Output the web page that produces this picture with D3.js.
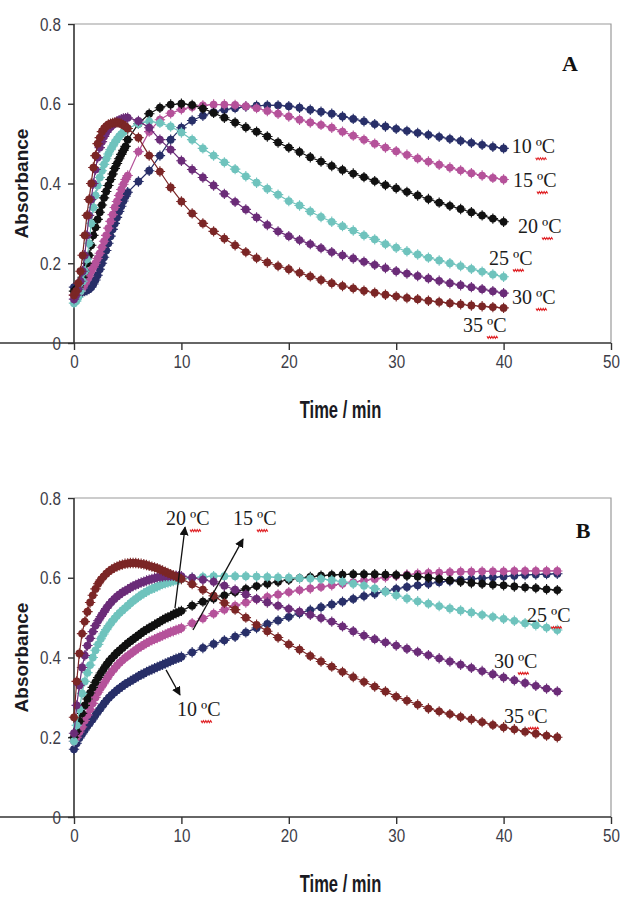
<!DOCTYPE html>
<html><head><meta charset="utf-8">
<script src="https://cdn.jsdelivr.net/npm/d3@7"></script>
<style>body{margin:0;background:#fff}</style>
</head><body>
<svg id="c" width="622" height="900"></svg>
<script>
// ---------- DATA ----------
const xTicks = [0, 10, 20, 30, 40, 50];
const yTicks = [0, 0.2, 0.4, 0.6, 0.8];
const seriesNames = ["10", "15", "20", "25", "30", "35"];

// Panel A time points (min)
const tA = [0,0.2,0.4,0.6,0.8,1,1.2,1.4,1.6,1.8,2,2.2,2.4,2.6,2.8,3,3.2,3.4,3.6,3.8,4,4.2,4.4,4.6,4.8,5,
  6,7,8,9,10,11,12,13,14,15,16,17,18,19,20,21,22,23,24,25,26,27,28,29,30,31,32,33,34,35,36,37,38,39,40];
const a10 = [0.14,0.135,0.13,0.128,0.128,0.13,0.132,0.135,0.14,0.148,0.158,0.17,0.185,0.2,0.215,0.232,0.25,0.268,0.285,0.3,0.315,0.33,0.343,0.356,0.368,0.378,
  0.405,0.432,0.47,0.51,0.54,0.558,0.57,0.579,0.585,0.589,0.593,0.595,0.596,0.596,0.594,0.59,0.585,0.58,0.575,0.568,0.562,0.556,0.549,0.543,0.537,0.532,0.527,0.522,0.517,0.512,0.507,0.502,0.497,0.492,0.488];
const a15 = [0.12,0.12,0.125,0.13,0.138,0.148,0.158,0.168,0.18,0.19,0.2,0.212,0.225,0.24,0.255,0.27,0.288,0.305,0.322,0.34,0.355,0.37,0.385,0.398,0.41,0.42,
  0.48,0.53,0.56,0.576,0.586,0.592,0.596,0.598,0.598,0.597,0.594,0.589,0.582,0.575,0.568,0.56,0.553,0.547,0.54,0.53,0.52,0.51,0.5,0.49,0.481,0.472,0.463,0.455,0.447,0.44,0.433,0.426,0.42,0.414,0.41];
const a20 = [0.13,0.135,0.14,0.15,0.165,0.18,0.2,0.22,0.245,0.27,0.29,0.31,0.328,0.346,0.364,0.38,0.395,0.41,0.424,0.438,0.45,0.462,0.473,0.483,0.493,0.51,
  0.55,0.575,0.59,0.598,0.6,0.597,0.588,0.577,0.565,0.553,0.541,0.53,0.518,0.503,0.49,0.479,0.466,0.455,0.444,0.434,0.425,0.416,0.406,0.396,0.388,0.379,0.37,0.361,0.352,0.344,0.336,0.328,0.32,0.312,0.304];
const a25 = [0.1,0.105,0.115,0.13,0.155,0.18,0.21,0.25,0.3,0.34,0.37,0.395,0.415,0.432,0.448,0.462,0.474,0.485,0.494,0.503,0.511,0.518,0.524,0.529,0.534,0.538,
  0.55,0.556,0.552,0.543,0.528,0.51,0.488,0.47,0.453,0.436,0.418,0.402,0.387,0.372,0.356,0.345,0.33,0.316,0.304,0.293,0.282,0.27,0.26,0.248,0.239,0.23,0.222,0.214,0.207,0.2,0.193,0.186,0.179,0.172,0.166];
const a30 = [0.11,0.12,0.135,0.155,0.18,0.22,0.27,0.32,0.36,0.4,0.435,0.465,0.49,0.505,0.518,0.528,0.536,0.542,0.547,0.552,0.556,0.559,0.561,0.563,0.564,0.565,
  0.557,0.54,0.51,0.485,0.457,0.435,0.415,0.395,0.374,0.354,0.335,0.315,0.296,0.28,0.268,0.258,0.248,0.238,0.228,0.22,0.212,0.204,0.196,0.188,0.18,0.174,0.168,0.162,0.156,0.15,0.145,0.14,0.135,0.13,0.125];
const a35 = [0.12,0.13,0.15,0.18,0.22,0.27,0.32,0.36,0.4,0.44,0.47,0.5,0.515,0.53,0.538,0.544,0.548,0.55,0.552,0.553,0.553,0.552,0.55,0.547,0.543,0.538,
  0.515,0.47,0.43,0.39,0.355,0.325,0.3,0.28,0.262,0.245,0.228,0.213,0.202,0.193,0.185,0.176,0.167,0.158,0.15,0.143,0.137,0.131,0.126,0.121,0.117,0.113,0.11,0.106,0.103,0.1,0.097,0.094,0.092,0.09,0.088];

// Panel B time points (min)
const tB = [0,0.25,0.5,0.75,1,1.25,1.5,1.75,2,2.25,2.5,2.75,3,3.25,3.5,3.75,4,4.25,4.5,4.75,5,5.25,5.5,5.75,6,6.25,6.5,6.75,7,7.25,7.5,7.75,8,8.25,8.5,8.75,9,9.25,9.5,9.75,10,
  11,12,13,14,15,16,17,18,19,20,21,22,23,24,25,26,27,28,29,30,31,32,33,34,35,36,37,38,39,40,41,42,43,44,45];
const b10 = [0.17,0.185,0.198,0.208,0.218,0.228,0.237,0.246,0.256,0.265,0.274,0.283,0.292,0.299,0.306,0.312,0.318,0.323,0.328,0.333,0.337,0.341,0.345,0.349,0.353,0.357,0.36,0.364,0.367,0.37,0.373,0.376,0.379,0.382,0.385,0.388,0.391,0.394,0.397,0.399,0.402,
  0.413,0.424,0.434,0.443,0.452,0.463,0.474,0.484,0.493,0.502,0.511,0.519,0.526,0.533,0.54,0.547,0.554,0.56,0.566,0.572,0.577,0.581,0.585,0.589,0.592,0.595,0.597,0.599,0.601,0.603,0.605,0.607,0.608,0.609,0.61];
const b15 = [0.19,0.2,0.213,0.226,0.242,0.256,0.27,0.285,0.3,0.313,0.324,0.334,0.345,0.355,0.364,0.372,0.38,0.387,0.393,0.399,0.404,0.409,0.414,0.419,0.424,0.428,0.432,0.436,0.44,0.443,0.446,0.449,0.452,0.455,0.458,0.461,0.464,0.466,0.469,0.471,0.474,
  0.486,0.498,0.51,0.52,0.53,0.538,0.546,0.552,0.558,0.564,0.569,0.573,0.577,0.581,0.585,0.589,0.593,0.597,0.601,0.605,0.608,0.61,0.612,0.613,0.614,0.615,0.615,0.616,0.616,0.616,0.617,0.617,0.617,0.617,0.617];
const b20 = [0.2,0.215,0.24,0.26,0.28,0.296,0.311,0.325,0.338,0.35,0.361,0.371,0.381,0.39,0.398,0.405,0.412,0.418,0.424,0.43,0.436,0.441,0.446,0.451,0.456,0.461,0.466,0.47,0.474,0.478,0.482,0.486,0.49,0.494,0.498,0.501,0.504,0.508,0.511,0.514,0.517,
  0.53,0.54,0.548,0.556,0.564,0.572,0.579,0.585,0.59,0.595,0.599,0.602,0.605,0.607,0.608,0.609,0.609,0.609,0.608,0.607,0.605,0.603,0.6,0.597,0.594,0.59,0.587,0.585,0.583,0.581,0.578,0.576,0.574,0.571,0.569];
const b25 = [0.19,0.23,0.27,0.31,0.34,0.362,0.381,0.4,0.418,0.433,0.447,0.459,0.47,0.48,0.489,0.497,0.505,0.512,0.518,0.524,0.53,0.536,0.542,0.547,0.552,0.557,0.561,0.565,0.569,0.572,0.575,0.578,0.581,0.584,0.586,0.588,0.59,0.592,0.594,0.595,0.597,
  0.6,0.602,0.604,0.604,0.604,0.604,0.603,0.602,0.601,0.6,0.599,0.598,0.597,0.594,0.59,0.585,0.58,0.573,0.565,0.556,0.548,0.541,0.535,0.529,0.523,0.518,0.513,0.507,0.502,0.497,0.492,0.486,0.481,0.475,0.469];
const b30 = [0.21,0.28,0.33,0.375,0.405,0.43,0.448,0.465,0.48,0.492,0.503,0.513,0.523,0.532,0.54,0.547,0.553,0.558,0.563,0.567,0.571,0.575,0.579,0.582,0.585,0.588,0.59,0.593,0.595,0.597,0.599,0.601,0.602,0.603,0.604,0.604,0.605,0.605,0.605,0.604,0.604,
  0.6,0.595,0.59,0.58,0.57,0.558,0.547,0.538,0.53,0.522,0.515,0.507,0.499,0.49,0.478,0.466,0.455,0.446,0.438,0.43,0.422,0.414,0.406,0.398,0.39,0.382,0.374,0.366,0.358,0.35,0.343,0.336,0.329,0.322,0.315];
const b35 = [0.25,0.34,0.41,0.46,0.49,0.515,0.538,0.556,0.572,0.585,0.595,0.603,0.61,0.616,0.621,0.625,0.628,0.631,0.633,0.635,0.636,0.637,0.637,0.637,0.636,0.635,0.634,0.632,0.63,0.628,0.626,0.624,0.621,0.618,0.615,0.612,0.609,0.606,0.603,0.6,0.597,
  0.584,0.57,0.555,0.537,0.52,0.5,0.482,0.466,0.45,0.433,0.42,0.404,0.39,0.377,0.364,0.351,0.339,0.327,0.315,0.302,0.292,0.282,0.272,0.265,0.258,0.251,0.245,0.238,0.231,0.225,0.22,0.214,0.209,0.204,0.2];

// Label anchors in data units [time, absorbance]
const labelsA = {"10":[40.75,0.476],"15":[40.87,0.391],"20":[41.34,0.276],"25":[38.64,0.196],"30":[40.78,0.098],"35":[36.22,0.028]};
const labelsB = {"10":[9.59,0.253],"15":[14.8,0.732],"20":[8.57,0.732],"25":[42.18,0.489],"30":[39.1,0.374],"35":[40.04,0.236]};
const arrowsB = [[[9.4,0.524],[10.34,0.727]],[[11.08,0.469],[15.74,0.697]],[[8.57,0.369],[9.87,0.306]]];

// ---------- STYLE ----------
const colors = {"10":"#282f68","15":"#b5529a","20":"#111111","25":"#6fc3bd","30":"#6b2c78","35":"#7b2626"};
const svg = d3.select("#c");
const sans = "'Liberation Sans',Arial,sans-serif";
const serif = "'Liberation Serif','Times New Roman',serif";
const SX = 0.8; // horizontal condensing for the narrow axis font

svg.append("defs").append("marker").attr("id","ah").attr("viewBox","0 0 10 10")
  .attr("refX",9).attr("refY",5).attr("markerWidth",9).attr("markerHeight",9)
  .attr("markerUnits","userSpaceOnUse").attr("orient","auto")
  .append("path").attr("d","M0,0L10,5L0,10Z").attr("fill","#111");

function panel(cfg){
  const x = d3.scaleLinear().domain([0,50]).range([74,611]);
  const y = d3.scaleLinear().domain([0,0.8]).range([cfg.y0, cfg.y1]);
  const g = svg.append("g");
  // frame
  g.append("path").attr("d",`M${x(0)},${y(0.8)}H${x(50)}V${y(0)}`).attr("fill","none").attr("stroke","#9a9a9a").attr("stroke-width",1.2);
  // axes
  const ax = g.append("g").attr("transform",`translate(0,${y(0)})`)
    .call(d3.axisBottom(x).tickValues(xTicks).tickSize(7).tickPadding(5).tickFormat(d3.format("d")));
  const ay = g.append("g").attr("transform",`translate(${x(0)},0)`)
    .call(d3.axisLeft(y).tickValues(yTicks).tickSize(6).tickPadding(7).tickFormat(d=>d===0?"0":d3.format(".1f")(d)));
  [ax,ay].forEach(a=>{
    a.select(".domain").attr("stroke","#333").attr("stroke-width",1.6);
    a.selectAll(".tick line").attr("stroke","#333").attr("stroke-width",1.4);
    a.selectAll(".tick text").attr("font-family",sans).attr("font-size",19).attr("fill","#3d3d48")
      .attr("transform",`scale(${SX},1)`);
  });
  ay.selectAll(".tick text").attr("x",-13/SX);
  ay.select(".domain").attr("d",`M0,${y(0)}V${y(0.8)}`);
  ax.select(".domain").attr("d",`M0,0H${x(50)}`);
  // titles
  g.append("text").attr("transform",`translate(${(x(0)+x(50))/2-2},${y(0)+75}) scale(0.72,1)`).attr("text-anchor","middle")
    .attr("font-family",sans).attr("font-weight","bold").attr("font-size",23).attr("fill","#1a1a22").text("Time / min");
  g.append("text").attr("transform",`translate(28,${(y(0)+y(0.8))/2}) rotate(-90)`).attr("text-anchor","middle")
    .attr("font-family",sans).attr("font-weight","bold").attr("font-size",19).attr("fill","#1a1a22").text("Absorbance");
  g.append("text").attr("x",cfg.letterX).attr("y",y(0.8)+cfg.letterDy).attr("text-anchor","middle")
    .attr("font-family",serif).attr("font-weight","bold").attr("font-size",22).attr("fill","#111").text(cfg.letter);
  // series
  const line = d3.line().x(d=>x(d[0])).y(d=>y(d[1]));
  seriesNames.forEach(k=>{
    const vals = cfg.data[k];
    const pts = cfg.t.map((t,i)=>[t,vals[i]]).filter(d=>d[1]!==undefined);
    const c = colors[k];
    const sg = g.append("g");
    sg.append("path").datum(pts).attr("d",line).attr("fill","none").attr("stroke",c).attr("stroke-width",1.2);
    const m = sg.selectAll("g.m").data(pts).join("g").attr("transform",d=>`translate(${x(d[0])},${y(d[1])})`);
    m.append("circle").attr("r",3.9).attr("fill",c);
    m.append("path").attr("d","M-5.2,0H5.2M0,-5.2V5.2").attr("stroke",c).attr("stroke-width",1.1);
  });
  // arrows
  (cfg.arrows||[]).forEach(a=>{
    g.append("line").attr("x1",x(a[0][0])).attr("y1",y(a[0][1])).attr("x2",x(a[1][0])).attr("y2",y(a[1][1]))
      .attr("stroke","#111").attr("stroke-width",1.3).attr("marker-end","url(#ah)");
  });
  // temperature labels
  seriesNames.forEach(k=>{
    const p = cfg.labels[k];
    const tx = x(p[0]), ty = y(p[1]);
    const t1 = g.append("text").attr("x",tx).attr("y",ty).attr("font-family",serif).attr("font-size",20).attr("fill","#1c1c1c").text(k);
    const w1 = t1.node().getComputedTextLength() + 4;
    const t2 = g.append("text").attr("x",tx+w1).attr("y",ty).attr("font-family",serif).attr("font-size",20).attr("fill","#1c1c1c").text("\u00BAC");
    const w2 = t2.node().getComputedTextLength();
    let d = `M${tx+w1},${ty+4.5}`;
    for(let s=0;s<w2+1;s+=2.4){ d += `l1.2,${Math.round(s/2.4)%2===0?2:-2}`; }
    g.append("path").attr("d",d).attr("fill","none").attr("stroke","#e0262a").attr("stroke-width",1.1);
  });
}

panel({y0:343,y1:24,t:tA,data:{"10":a10,"15":a15,"20":a20,"25":a25,"30":a30,"35":a35},labels:labelsA,letter:"A",letterX:570,letterDy:47});
panel({y0:817,y1:498,t:tB,data:{"10":b10,"15":b15,"20":b20,"25":b25,"30":b30,"35":b35},labels:labelsB,arrows:arrowsB,letter:"B",letterX:583,letterDy:40});
</script>
</body></html>
